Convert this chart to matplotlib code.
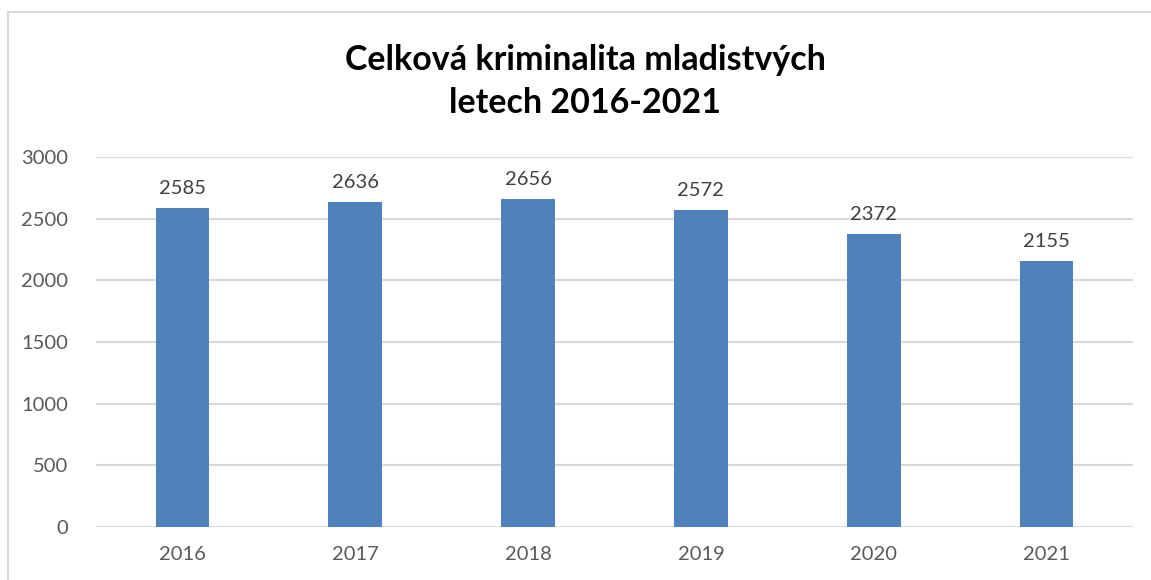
import matplotlib.pyplot as plt
from matplotlib.patches import Rectangle

years = ['2016', '2017', '2018', '2019', '2020', '2021']
counts = [2585, 2636, 2656, 2572, 2372, 2155]
yticks = [0, 500, 1000, 1500, 2000, 2500, 3000]

plt.rcParams['font.family'] = ['Lato', 'DejaVu Sans']

fig = plt.figure(figsize=(11.51, 5.8), dpi=100)
ax = fig.add_axes([96/1151, 1-527/580, (1133-96)/1151, (527-157)/580])

x = range(len(years))
bars = ax.bar(x, counts, width=0.31, color='#4F81BD', zorder=3)
for xi, v in zip(x, counts):
    ax.text(xi, v + 90, str(v), ha='center', va='bottom', fontsize=14.5, color='#404040')

ax.set_xlim(-0.5, len(years) - 0.5)
ax.set_ylim(0, 3000)
ax.set_yticks(yticks)
ax.set_xticks(list(x))
ax.set_xticklabels(years)
ax.grid(axis='y', color='#D9D9D9', linewidth=1.5, zorder=0)
for s in ax.spines.values():
    s.set_visible(False)
ax.tick_params(axis='both', length=0, labelsize=14.5, labelcolor='#595959')
ax.tick_params(axis='x', pad=14)
ax.tick_params(axis='y', pad=20)

fig.text(585/1151, 1-60/580, 'Celková kriminalita mladistvých', ha='center', va='center',
         fontsize=24.5, fontweight='bold', color='black')
fig.text(585/1151, 1-103/580, 'letech 2016-2021', ha='center', va='center',
         fontsize=24.5, fontweight='bold', color='black')

fig.patches.append(Rectangle((8/1151, -0.1), 1.2, 1.1 - 12/580, transform=fig.transFigure,
                             fill=False, edgecolor='#D9D9D9', linewidth=1.5))

fig.savefig('out.png', dpi=100)
